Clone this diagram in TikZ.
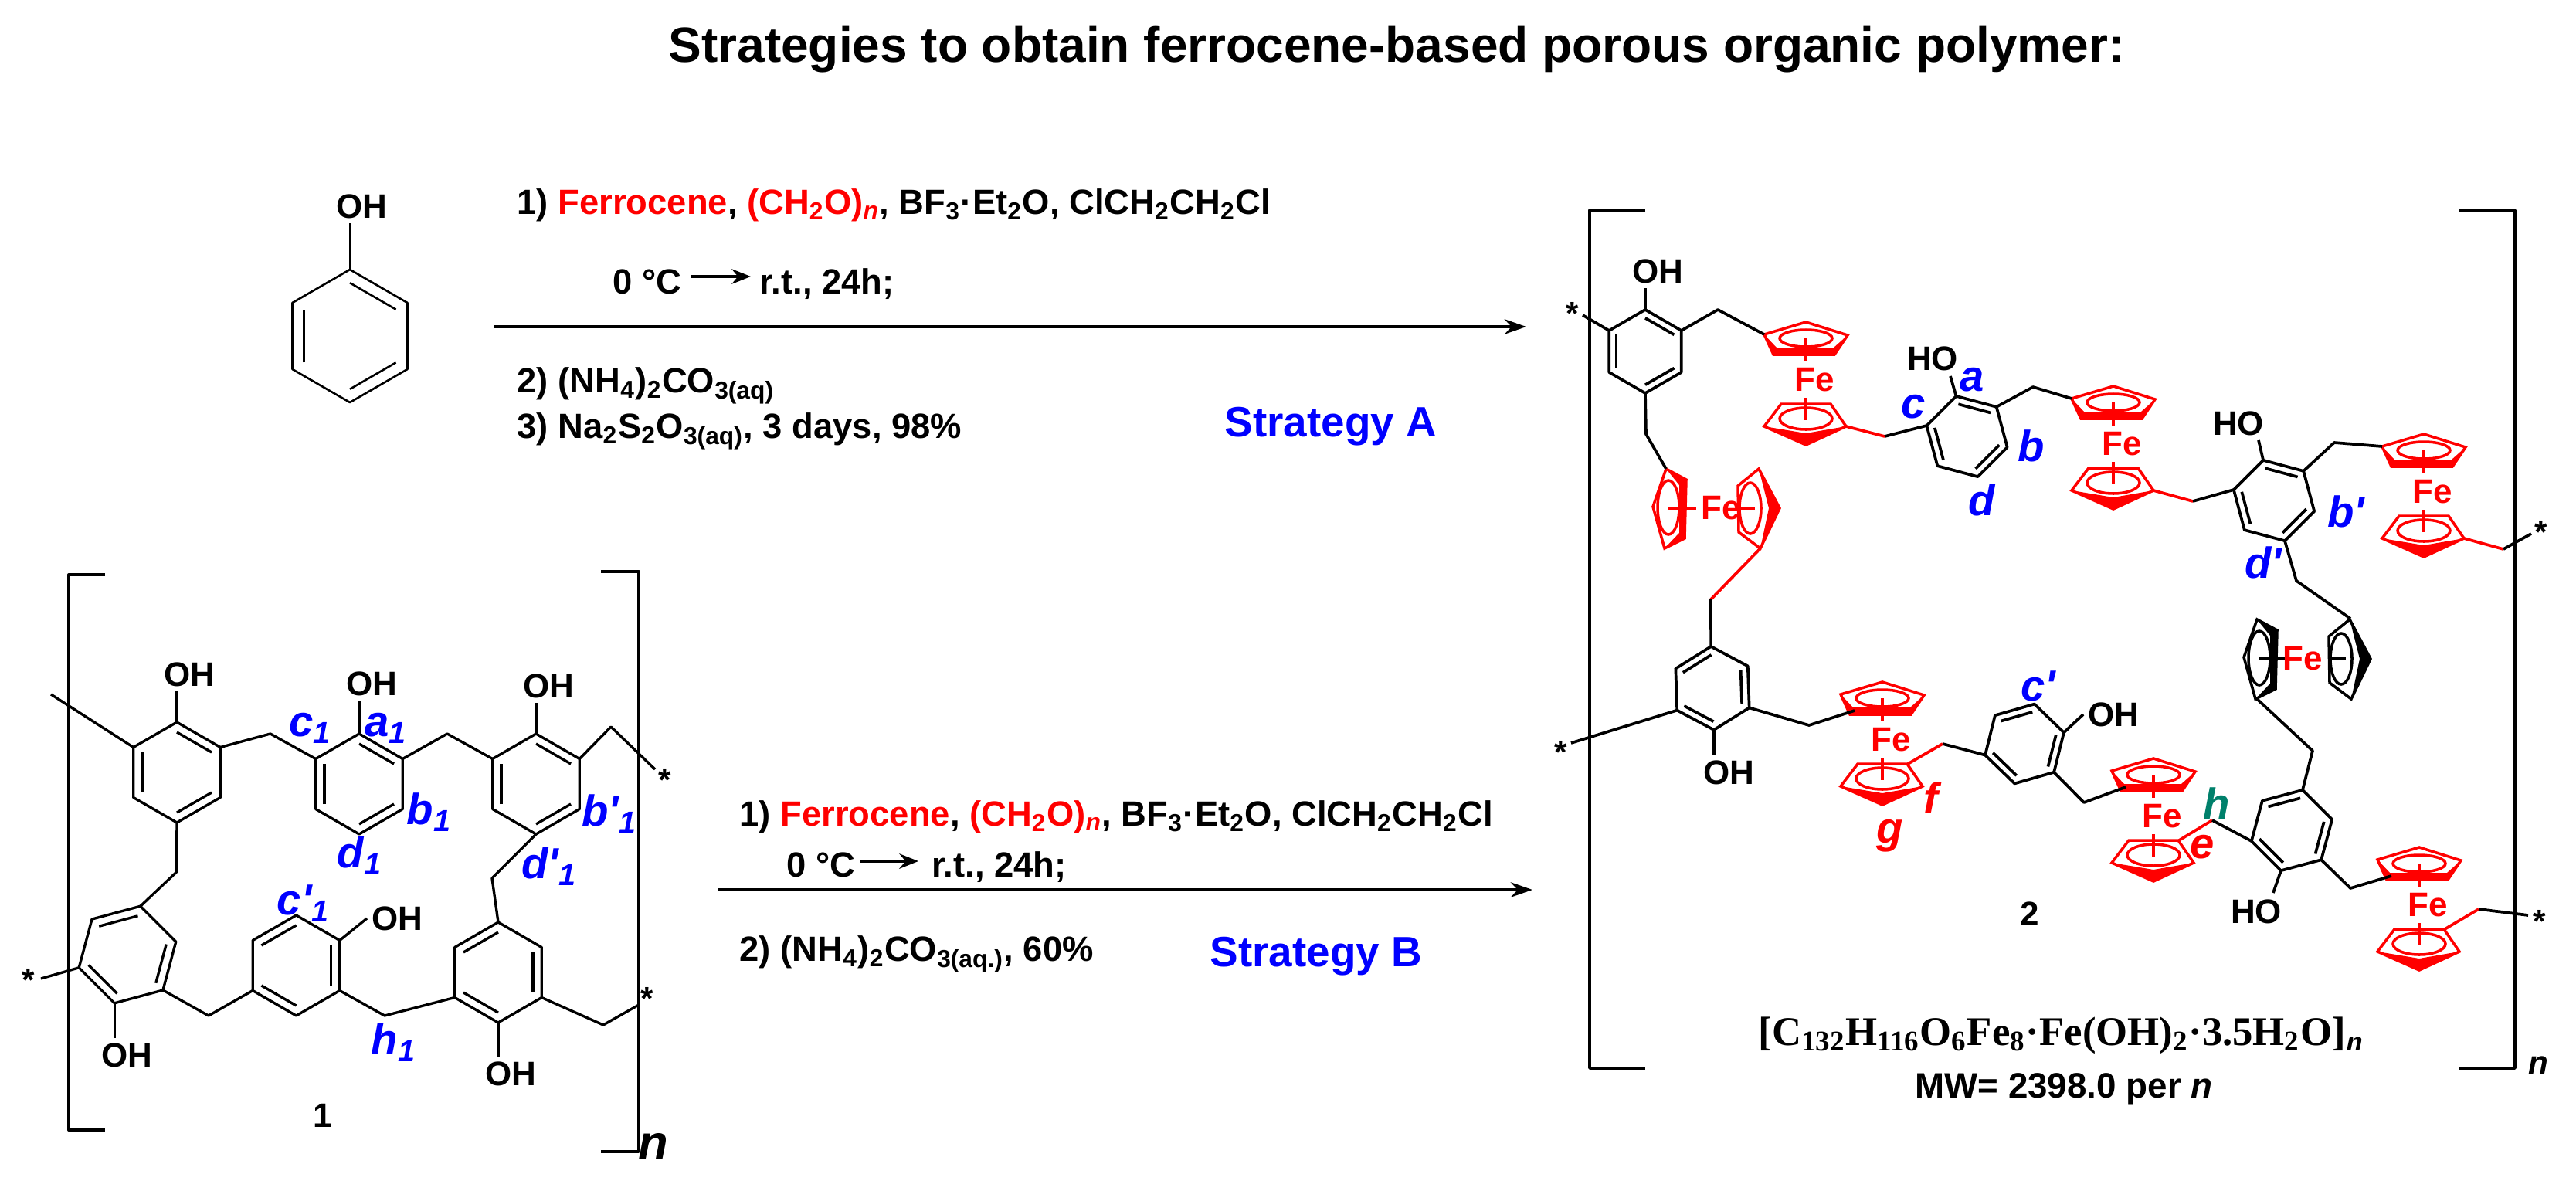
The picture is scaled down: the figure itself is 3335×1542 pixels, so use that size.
\documentclass[tikz,border=0pt]{standalone}
\usepackage{fontspec}
\setmainfont{Liberation Sans}
\newfontfamily\serifchem{Liberation Serif}
\usetikzlibrary{calc,arrows.meta}
\definecolor{peakgreen}{HTML}{00806B}
\tikzset{
	bondline/.style={line width=0.95pt, line join=round},
	ferroline/.style={line width=1pt, line join=miter},
	reactarrow/.style={line width=1.2pt, -{Stealth[length=8pt,width=5.5pt]}},
	minarrow/.style={line width=1.2pt, -{Stealth[length=7pt,width=5.5pt]}},
	atomtext/.style={font=\fontsize{12.5}{14}\selectfont\bfseries, inner sep=1.5pt},
	startext/.style={font=\fontsize{12}{14}\selectfont\bfseries, inner sep=0pt},
	condtext/.style={font=\fontsize{12.9}{15}\selectfont\bfseries, anchor=base west, inner sep=0pt},
	strategytext/.style={font=\fontsize{15.6}{18}\selectfont\bfseries, text=blue, anchor=base west, inner sep=0pt},
	peaktext/.style={font=\fontsize{16}{18}\selectfont\bfseries\itshape, text=blue, inner sep=0pt},
	peaktextsmall/.style={font=\fontsize{16}{18}\selectfont\bfseries\itshape, text=blue, inner sep=0pt},
}
\newcommand{\benzring}[5]{
	\coordinate (#1) at (#2);
	\foreach \k in {1,...,6}{
		\coordinate (#1-\k) at ($(#1)+({#4*cos(#3-60*(\k-1))},{-1*#4*sin(#3-60*(\k-1))})$);
	}
	\draw[bondline] (#1-1)--(#1-2)--(#1-3)--(#1-4)--(#1-5)--(#1-6)--cycle;
	\foreach \i/\j in {#5}{
		\draw[bondline] ($(#1)!0.8!(#1-\i)$)--($(#1)!0.8!(#1-\j)$);
	}
}
\newcommand{\ferrotop}[3]{
	\begin{scope}[shift={(#2,#3)}, red]
	\coordinate (#1-tl) at (-54,-59);
	\coordinate (#1-ta) at (-36,-38);
	\coordinate (#1-br) at (52,60);
	\coordinate (#1-bt) at (33,31);
	\draw[ferroline] (-54,-59)--(0,-75)--(54,-58)--(37,-33)--(-42,-33)--cycle;
	\fill (-54,-59)--(-42,-33)--(37,-33)--(54,-58)--(36,-42)--(-38,-42)--cycle;
	\draw[ferroline] (0,-54) ellipse [x radius=34, y radius=11];
	\draw[ferroline] (0,-54)--(0,-24);
	\node[atomtext] (#1-fe) at (11,0) {Fe};
	\draw[ferroline] (0,23)--(0,52);
	\draw[ferroline] (-32,31)--(32,31)--(52,60)--(0,84)--(-54,60)--cycle;
	\fill (-54,60)--(0,69)--(52,60)--(0,84)--cycle;
	\draw[ferroline] (0,50) ellipse [x radius=34, y radius=14];
	\end{scope}
}
\newcommand{\ferroside}[5]{
	\begin{scope}[shift={(#2,#3)}, #4]
	\coordinate (#1-lt) at (-65,-51);
	\coordinate (#1-lb) at (-65,52);
	\coordinate (#1-rt) at (56,-52);
	\coordinate (#1-rb) at (57,52);
	\draw[ferroline] (-65,-51)--(-39,-37)--(-41,39)--(-67,52)--(-82,-2)--cycle;
	\fill (-65,-51)--(-39,-37)--(-41,39)--(-67,52)--(-48,32)--(-48,-30)--cycle;
	\draw[ferroline] (-62,-1) ellipse [x radius=14, y radius=35];
	\draw[ferroline] (-62,0)--(-26,0);
	\draw[ferroline] (55,-51)--(28,-29)--(29,31)--(57,52)--(82,0)--cycle;
	\fill (55,-51)--(82,0)--(57,52)--(68,0)--cycle;
	\draw[ferroline] (44,0) ellipse [x radius=14, y radius=33];
	\draw[ferroline] (28,0)--(50,0);
	\node[atomtext, text=red] (#1-fe) at (#5,0) {Fe};
	\end{scope}
}
\begin{document}
\begin{tikzpicture}[x=0.01cm,y=-0.01cm]
\useasboundingbox (0,0) rectangle (3335,1542);

\node[font=\fontsize{18.2}{20}\selectfont\bfseries, anchor=base, inner sep=0pt] (titleText) at (1808,80) {Strategies to obtain ferrocene-based porous organic polymer:};

\begin{scope}[bondline/.style={line width=0.75pt, line join=round}]
\benzring{ringP}{453,435}{90}{86}{1/2,3/4,5/6}
\node[atomtext] (ohP) at (468,267) {OH};
\draw[bondline] (ringP-1)--(ohP.south -| ringP-1);
\end{scope}

\coordinate (arrowAs) at (640,423);
\coordinate (arrowAe) at (1976,423);
\draw[reactarrow] (arrowAs)--(arrowAe);
\node[condtext] (condA1) at (669,277) {1) \textcolor{red}{Ferrocene}, \textcolor{red}{(CH\textsubscript{2}O)\textsubscript{\itshape n}}, BF\textsubscript{3}·Et\textsubscript{2}O, ClCH\textsubscript{2}CH\textsubscript{2}Cl};
\node[condtext] (condA2) at (793,380) {0 °C};
\coordinate (minAs) at (894,358);
\coordinate (minAe) at (972,358);
\draw[minarrow] (minAs)--(minAe);
\node[condtext] (condA3) at (983,380) {r.t., 24h;};
\node[condtext] (condA4) at (669,508) {2) (NH\textsubscript{4})\textsubscript{2}CO\textsubscript{3(aq)}};
\node[condtext] (condA5) at (669,567) {3) Na\textsubscript{2}S\textsubscript{2}O\textsubscript{3(aq)}, 3 days, 98\%};
\node[strategytext] (stratA) at (1585,565) {Strategy A};

\coordinate (arrowBs) at (930,1152);
\coordinate (arrowBe) at (1984,1152);
\draw[reactarrow] (arrowBs)--(arrowBe);
\node[condtext] (condB1) at (957,1069) {1) \textcolor{red}{Ferrocene}, \textcolor{red}{(CH\textsubscript{2}O)\textsubscript{\itshape n}}, BF\textsubscript{3}·Et\textsubscript{2}O, ClCH\textsubscript{2}CH\textsubscript{2}Cl};
\node[condtext] (condB2) at (1018,1135) {0 °C};
\coordinate (minBs) at (1114,1115);
\coordinate (minBe) at (1189,1115);
\draw[minarrow] (minBs)--(minBe);
\node[condtext] (condB3) at (1206,1135) {r.t., 24h;};
\node[condtext] (condB4) at (957,1244) {2) (NH\textsubscript{4})\textsubscript{2}CO\textsubscript{3(aq.)}, 60\%};
\node[strategytext] (stratB) at (1566,1251) {Strategy B};

\draw[bondline] (136,744)--(89,744)--(89,1463)--(136,1463);
\draw[bondline] (778,740)--(827,740)--(827,1491)--(778,1491);
\node[font=\fontsize{18}{20}\selectfont\bfseries\itshape, inner sep=0pt] (polyN) at (846,1484) {n};
\node[atomtext] (labelOne) at (418,1444) {1};

\benzring{ringA}{229,1000}{90}{65}{1/2,3/4,5/6}
\benzring{ringB}{465,1015}{90}{65}{1/2,3/4,5/6}
\benzring{ringC}{694,1015}{90}{65}{1/2,3/4,5/6}
\benzring{ringD}{165,1236}{75}{65}{6/1,2/3,4/5}
\benzring{ringE}{383.5,1250}{90}{65}{6/1,2/3,4/5}
\benzring{ringF}{645,1259}{90}{65}{6/1,2/3,4/5}
\foreach \n/\p in {tailA/{66,899},mAB/{350,950},mBC/{579,950},mCs/{791,941},tailC/{848,996},mCF/{637,1137},
	mAD/{228.5,1129},tailD/{53,1267},mDE/{270,1315},mEF/{498,1315},mFs/{781,1327},tailF/{827,1301}}{
	\coordinate (\n) at (\p);
}
\draw[bondline] (tailA)--(ringA-6);
\draw[bondline] (ringA-2)--(mAB)--(ringB-6);
\draw[bondline] (ringB-2)--(mBC)--(ringC-6);
\draw[bondline] (ringC-2)--(mCs)--(tailC);
\draw[bondline] (ringC-4)--(mCF)--(ringF-1);
\draw[bondline] (ringA-4)--(mAD)--(ringD-1);
\draw[bondline] (ringD-5)--(tailD);
\draw[bondline] (ringD-3)--(mDE)--(ringE-5);
\draw[bondline] (ringE-3)--(mEF)--(ringF-5);
\draw[bondline] (ringF-3)--(mFs)--(tailF);
\node[atomtext] (ohA) at (245,873) {OH};
\node[atomtext] (ohB) at (481,885) {OH};
\node[atomtext] (ohC) at (710,888) {OH};
\node[atomtext] (ohD) at (164,1366) {OH};
\node[atomtext] (ohE) at (514,1189) {OH};
\node[atomtext] (ohF) at (661,1390) {OH};
\draw[bondline] (ringA-1)--(ohA.south -| ringA-1);
\draw[bondline] (ringB-1)--(ohB.south -| ringB-1);
\draw[bondline] (ringC-1)--(ohC.south -| ringC-1);
\draw[bondline] (ringD-4)--(ohD.north -| ringD-4);
\draw[bondline] (ringE-2)--(ohE.west);
\draw[bondline] (ringF-4)--(ohF.north -| ringF-4);
\node[startext] (starC) at (861,1010) {*};
\node[startext] (starD) at (37,1269) {*};
\node[startext] (starF) at (838,1293) {*};
\foreach \n/\p/\t in {pkC/{402,943}/c, pkA/{500,943}/a, pkB/{556,1052}/b, pkD/{466,1108}/d, pkH/{510,1350}/h,
	pkBp/{789,1054}/b\textquotesingle, pkDp/{711,1122}/d\textquotesingle, pkCp/{393,1170}/c\textquotesingle}{
	\node[peaktext] (\n) at (\p) {\t\textsubscript{1}};
}

\begin{scope}[bondline/.style={line width=1.05pt, line join=round}]
\draw[bondline] (2130,272)--(2058,272)--(2058,1383)--(2130,1383);
\draw[bondline] (3183,272)--(3256,272)--(3256,1383)--(3183,1383);
\node[font=\fontsize{12}{14}\selectfont\bfseries\itshape, inner sep=0pt] (netN) at (3286,1379) {n};
\node[atomtext] (labelTwo) at (2628,1183) {2};
\node[font=\fontsize{15}{17}\selectfont\bfseries\serifchem, anchor=base, inner sep=0pt] (formulaText) at (2668,1353) {[C\textsubscript{132}H\textsubscript{116}O\textsubscript{6}Fe\textsubscript{8}·Fe(OH)\textsubscript{2}·3.5H\textsubscript{2}O]\textsubscript{\sffamily\itshape n}};
\node[font=\fontsize{13}{15}\selectfont\bfseries, anchor=base, inner sep=0pt] (mwText) at (2672,1421) {MW= 2398.0 per \textit{n}};

\benzring{ringG}{2130,455}{90}{54}{1/2,3/4,5/6}
\benzring{ringH}{2546.5,565}{105}{54}{1/2,3/4,5/6}
\benzring{ringI}{2944,648}{105}{54}{1/2,3/4,5/6}
\benzring{ringJ}{2217,891}{92}{54}{6/1,2/3,4/5}
\benzring{ringK}{2621,963}{76}{53}{6/1,2/3,4/5}
\benzring{ringL}{2967,1075}{75}{54}{6/1,2/3,4/5}
\ferrotop{ferA}{2338}{492}
\ferrotop{ferB}{2736}{575}
\ferrotop{ferC}{3138}{637}
\ferrotop{ferD}{2437}{958}
\ferrotop{ferE}{2788}{1057}
\ferrotop{ferF}{3132}{1172}
\ferroside{ferG}{2222}{658}{red}{6}
\ferroside{ferH}{2987}{853}{black}{-6}
\foreach \n/\p in {tailG/{2049,408},mGa/{2224,401},mGg/{2131,562},mAH/{2440,565},mHb/{2632,501},mBI/{2839,649},
	mIc/{3022,573},mCt/{3241,711},tailI/{3277,691},mIh/{2973,752},mGJ/{2215,776},tailJ/{2034,962},mJd/{2342,939},
	mDK/{2515,963},mKe/{2698,1039},mEL/{2864,1062},mLh/{2994,972},mLf/{3043,1150},mFt/{3209,1177},tailL/{3273,1185},
	endH/{2525,487},endI/{2924,570},endL/{2943,1156}}{
	\coordinate (\n) at (\p);
}
\draw[bondline] (ringG-6)--(tailG);
\draw[bondline] (ringG-2)--(mGa)--(ferA-tl);
\draw[bondline] (ringG-4)--(mGg)--(ferG-lt);
\draw[bondline,red] (ferA-br)--(mAH);
\draw[bondline] (mAH)--(ringH-6);
\draw[bondline] (ringH-2)--(mHb)--(ferB-tl);
\draw[bondline,red] (ferB-br)--(mBI);
\draw[bondline] (mBI)--(ringI-6);
\draw[bondline] (ringI-2)--(mIc)--(ferC-tl);
\draw[bondline,red] (ferC-br)--(mCt);
\draw[bondline] (mCt)--(tailI);
\draw[bondline] (ringI-4)--(mIh)--(ferH-rt);
\draw[bondline,red] (ferG-rb)--(mGJ);
\draw[bondline] (mGJ)--(ringJ-1);
\draw[bondline] (ringJ-5)--(tailJ);
\draw[bondline] (ringJ-3)--(mJd)--(ferD-ta);
\draw[bondline,red] (ferD-bt)--(mDK);
\draw[bondline] (mDK)--(ringK-5);
\draw[bondline] (ringK-3)--(mKe)--(ferE-ta);
\draw[bondline,red] (ferE-bt)--(mEL);
\draw[bondline] (mEL)--(ringL-5);
\draw[bondline] (ringL-1)--(mLh)--(ferH-lb);
\draw[bondline] (ringL-3)--(mLf)--(ferF-ta);
\draw[bondline,red] (ferF-bt)--(mFt);
\draw[bondline] (mFt)--(tailL);
\node[atomtext] (ohG) at (2146,351) {OH};
\node[atomtext] (hoH) at (2502,464) {HO};
\node[atomtext] (hoI) at (2898,548) {HO};
\node[atomtext] (ohJ) at (2238,1000) {OH};
\node[atomtext] (ohK) at (2736,925) {OH};
\node[atomtext] (hoL) at (2921,1180) {HO};
\draw[bondline] (ringG-1)--(ohG.south -| ringG-1);
\draw[bondline] (ringH-1)--(endH);
\draw[bondline] (ringI-1)--(endI);
\draw[bondline] (ringJ-4)--(ohJ.north -| ringJ-4);
\draw[bondline] (ringK-2)--(ohK.west);
\draw[bondline] (ringL-4)--(endL);
\node[startext] (starG) at (2036,406) {*};
\node[startext] (starI) at (3290,689) {*};
\node[startext] (starJ) at (2021,974) {*};
\node[startext] (starL) at (3288,1193) {*};
\foreach \n/\p/\t in {pkAb/{2553,492}/a, pkCb/{2477,527}/c, pkBb/{2630,577}/b, pkDb/{2566,647}/d,
	pkBq/{3037,662}/b\textquotesingle, pkDq/{2930,728}/d\textquotesingle, pkCq/{2639,888}/c\textquotesingle}{
	\node[peaktextsmall] (\n) at (\p) {\t};
}
\node[peaktextsmall, text=red] (pkE) at (2851,1097) {e};
\node[peaktextsmall, text=red] (pkF) at (2500,1033) {f};
\node[peaktextsmall, text=red] (pkG) at (2447,1082) {g};
\node[peaktextsmall, text=peakgreen] (pkHb) at (2870,1040) {h};
\end{scope}
\end{tikzpicture}
\end{document}
